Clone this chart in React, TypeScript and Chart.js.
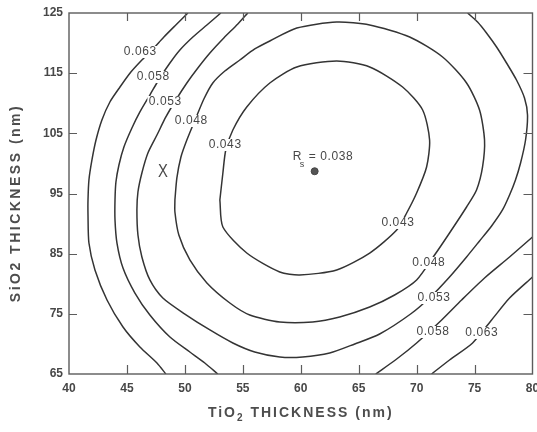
import React, { useEffect, useRef } from 'react';
import { Chart, registerables } from 'chart.js';

Chart.register(...registerables);

// Iso-reflectance contours R_s over the TiO2 / SiO2 layer thickness plane (nm)
const R043_X = [53.02, 53.28, 53.53, 54.14, 55.34, 57.33, 59.66, 63.1, 65.95, 68.79, 70.52, 71.12, 70.86, 70.0, 69.14, 68.28, 65.95, 63.1, 59.91, 58.19, 55.34, 53.28, 53.02];
const R043_Y = [93.92, 98.41, 102.23, 105.55, 109.38, 113.37, 116.03, 117.02, 116.03, 112.7, 108.88, 103.89, 99.41, 95.08, 91.76, 88.94, 85.11, 82.29, 81.46, 81.95, 85.11, 89.43, 93.92];

const R048_X = [49.14, 49.31, 49.66, 50.17, 50.95, 51.64, 52.41, 53.45, 54.74, 56.03, 57.33, 59.66, 63.1, 65.95, 69.4, 72.24, 74.31, 75.43, 75.86, 75.69, 75.17, 74.31, 72.84, 71.55, 70.0, 68.1, 65.95, 63.36, 61.03, 58.19, 55.6, 53.88, 51.9, 50.43, 49.48, 49.14, 49.14];
const R048_Y = [93.92, 97.58, 101.07, 103.89, 107.55, 110.71, 113.37, 115.36, 117.19, 119.02, 120.35, 122.51, 123.5, 123.01, 121.01, 117.69, 113.37, 108.88, 103.89, 99.41, 95.58, 92.76, 88.44, 84.78, 80.63, 78.13, 76.14, 74.48, 73.65, 73.65, 74.81, 76.8, 80.13, 83.95, 88.1, 91.93, 93.92];

const R053_X = [55.43, 54.57, 53.36, 52.16, 51.12, 50.17, 49.22, 48.36, 47.59, 46.81, 46.29, 45.95, 45.86, 45.95, 46.29, 46.98, 48.1, 50.0, 52.16, 54.14, 56.03, 58.19, 60.17, 62.5, 64.66, 66.81, 69.48, 71.29, 72.84, 74.31, 75.43, 76.47, 77.41, 78.02, 78.53, 78.97, 79.4, 79.57, 79.31, 78.62, 77.76, 76.9, 76.03, 75.26, 74.4];
const R053_Y = [125, 123.17, 120.85, 118.35, 115.86, 113.37, 110.54, 107.72, 104.72, 101.73, 98.41, 95.25, 92.26, 88.1, 84.45, 80.63, 77.63, 74.97, 72.32, 70.16, 68.66, 67.83, 67.83, 68.49, 69.99, 71.65, 74.97, 77.97, 81.12, 84.45, 87.11, 89.6, 92.26, 94.75, 97.25, 100.07, 103.89, 108.05, 110.87, 113.86, 116.69, 119.35, 121.68, 123.5, 125];

const R058A_X = [53.1, 51.9, 50.69, 49.57, 48.71, 47.84, 46.98, 46.12, 45.43, 44.74, 44.31, 44.05, 43.97, 43.97, 44.14, 44.66, 45.69, 46.98, 48.71, 50.43, 51.72, 52.84];
const R058A_Y = [125, 123.01, 121.01, 118.85, 116.69, 114.2, 111.37, 108.55, 105.89, 102.73, 99.74, 96.91, 93.92, 90.6, 86.77, 82.62, 78.46, 74.81, 71.15, 68.66, 66.83, 65];
const R058B_X = [66.47, 68.28, 70.0, 72.16, 73.88, 75.86, 78.02, 80.0];
const R058B_Y = [65, 67.49, 70.16, 73.98, 77.3, 80.96, 84.45, 87.77];

const R063A_X = [50.26, 49.22, 48.19, 47.24, 46.29, 45.34, 44.4, 43.53, 42.84, 42.33, 41.98, 41.72, 41.64, 41.64, 41.72, 42.24, 43.28, 44.66, 46.12, 47.59, 48.36];
const R063A_Y = [125, 123.01, 121.01, 119.02, 117.19, 115.19, 112.7, 110.21, 107.22, 103.89, 100.57, 97.25, 93.92, 91.43, 86.77, 82.29, 77.3, 72.81, 69.49, 66.83, 65];
const R063B_X = [71.29, 72.84, 74.83, 76.47, 78.02, 80.0];
const R063B_Y = [65, 67.33, 70.16, 73.98, 77.63, 81.12];

// Level labels placed along the contours
const LABEL_TEXT = ['0.063', '0.058', '0.053', '0.048', '0.043', '0.043', '0.048', '0.053', '0.058', '0.063'];
const LABEL_X = [46.12, 47.24, 48.28, 50.52, 53.45, 68.36, 71.03, 71.47, 71.38, 75.6];
const LABEL_Y = [118.52, 114.36, 110.21, 107.05, 103.06, 90.1, 83.45, 77.63, 71.98, 71.82];

// Minimum of R_s and the marked design point
const MIN_X = [61.2];
const MIN_Y = [98.7];
const MIN_VALUE = '0.038';
const MARK_X = 48.1;
const MARK_Y = 98.7;

const X_TICKS = [40, 45, 50, 55, 60, 65, 70, 75, 80];
const Y_TICKS = [65, 75, 85, 95, 105, 115, 125];

const FONT = '"Liberation Sans", Arial, Helvetica, sans-serif';
const LINE = '#343434';
const TEXT = '#474747';
const FRAME = '#5c5c5c';

const toPoints = (xs: number[], ys: number[]) => xs.map((x, i) => ({ x, y: ys[i] }));

const contour = (xs: number[], ys: number[]) => ({
  data: toPoints(xs, ys),
  showLine: true,
  pointRadius: 0,
  pointHoverRadius: 0,
  borderColor: LINE,
  borderWidth: 1.5,
  tension: 0.25,
  fill: false,
});

const overlay = {
  id: 'overlay',
  afterDatasetsDraw(chart: any) {
    const { ctx, chartArea: a, scales } = chart;
    const sx = scales.x;
    const sy = scales.y;
    ctx.save();

    // contour level labels sit on white patches that break the lines
    ctx.font = `12px ${FONT}`;
    (ctx as any).letterSpacing = '0.6px';
    ctx.textAlign = 'center';
    ctx.textBaseline = 'middle';
    LABEL_TEXT.forEach((t, i) => {
      const px = sx.getPixelForValue(LABEL_X[i]);
      const py = sy.getPixelForValue(LABEL_Y[i]);
      const w = ctx.measureText(t).width;
      ctx.fillStyle = '#ffffff';
      ctx.fillRect(px - w / 2 - 1, py - 6, w + 2, 12);
      ctx.fillStyle = TEXT;
      ctx.fillText(t, px + 0.3, py);
    });

    // R_s = minimum label beside the dot
    const dx = sx.getPixelForValue(MIN_X[0]);
    const dy = sy.getPixelForValue(MIN_Y[0]);
    ctx.textAlign = 'left';
    ctx.textBaseline = 'alphabetic';
    ctx.font = `12px ${FONT}`;
    ctx.fillText('R', dx - 22, dy - 11);
    ctx.font = `9px ${FONT}`;
    ctx.fillText('s', dx - 15, dy - 4);
    ctx.font = `12px ${FONT}`;
    ctx.fillText('= ' + MIN_VALUE, dx - 6, dy - 11);

    // design point marker
    const mx = sx.getPixelForValue(MARK_X);
    const my = sy.getPixelForValue(MARK_Y);
    (ctx as any).letterSpacing = '0px';
    ctx.save();
    ctx.translate(mx, my);
    ctx.scale(0.78, 1);
    ctx.font = `19px ${FONT}`;
    ctx.textAlign = 'center';
    ctx.textBaseline = 'middle';
    ctx.fillStyle = '#4a4a4a';
    ctx.fillText('X', 0, 1);
    ctx.restore();

    // plot frame with inward tick marks on all four sides
    ctx.strokeStyle = FRAME;
    ctx.lineWidth = 1.4;
    ctx.strokeRect(a.left, a.top, a.right - a.left, a.bottom - a.top);
    ctx.lineWidth = 1.2;
    ctx.beginPath();
    X_TICKS.slice(1, -1).forEach((v) => {
      const px = Math.round(sx.getPixelForValue(v)) + 0.5;
      ctx.moveTo(px, a.bottom);
      ctx.lineTo(px, a.bottom - 9);
      ctx.moveTo(px, a.top);
      ctx.lineTo(px, a.top + 8);
    });
    Y_TICKS.slice(1, -1).forEach((v) => {
      const py = Math.round(sy.getPixelForValue(v)) + 0.5;
      ctx.moveTo(a.left, py);
      ctx.lineTo(a.left + 8, py);
      ctx.moveTo(a.right, py);
      ctx.lineTo(a.right - 9, py);
    });
    ctx.stroke();

    // axis titles
    ctx.fillStyle = '#4d4d4d';
    ctx.textBaseline = 'alphabetic';
    ctx.textAlign = 'left';
    (ctx as any).letterSpacing = '2px';
    const big = `bold 14px ${FONT}`;
    const small = `bold 10px ${FONT}`;
    ctx.font = big;
    const w1 = ctx.measureText('TiO').width;
    const w3 = ctx.measureText(' THICKNESS (nm)').width;
    ctx.font = small;
    const w2 = ctx.measureText('2').width;
    const cx = (a.left + a.right) / 2;
    const start = cx - (w1 + w2 + w3) / 2;
    ctx.font = big;
    ctx.fillText('TiO', start, 417);
    ctx.font = small;
    ctx.fillText('2', start + w1, 421);
    ctx.font = big;
    ctx.fillText(' THICKNESS (nm)', start + w1 + w2, 417);

    ctx.save();
    ctx.translate(16, 203);
    ctx.rotate(-Math.PI / 2);
    (ctx as any).letterSpacing = '2.5px';
    ctx.font = big;
    ctx.textAlign = 'center';
    ctx.textBaseline = 'middle';
    ctx.fillText('SiO2 THICKNESS (nm)', 0, 0);
    ctx.restore();

    ctx.restore();
  },
};

export default function App() {
  const ref = useRef<HTMLCanvasElement | null>(null);

  useEffect(() => {
    if (!ref.current) return;
    const tickFont = { family: FONT, size: 12, weight: 'bold' as const };
    const chart = new Chart(ref.current, {
      type: 'scatter',
      data: {
        datasets: [
          contour(R043_X, R043_Y),
          contour(R048_X, R048_Y),
          contour(R053_X, R053_Y),
          contour(R058A_X, R058A_Y),
          contour(R058B_X, R058B_Y),
          contour(R063A_X, R063A_Y),
          contour(R063B_X, R063B_Y),
          {
            data: toPoints(MIN_X, MIN_Y),
            pointRadius: 3.5,
            pointHoverRadius: 3.5,
            pointBackgroundColor: '#555555',
            pointBorderColor: '#444444',
            pointBorderWidth: 1,
            showLine: false,
          },
        ] as any,
      },
      options: {
        animation: false,
        responsive: false,
        devicePixelRatio: 1,
        events: [],
        layout: { padding: { top: 13, right: 4, left: 0, bottom: 0 } },
        plugins: {
          legend: { display: false },
          tooltip: { enabled: false },
          title: { display: false },
        },
        scales: {
          x: {
            type: 'linear',
            min: 40,
            max: 80,
            grid: { display: false, drawTicks: false, tickLength: 0 },
            border: { display: false },
            ticks: { font: tickFont, color: TEXT, padding: 7, maxRotation: 0, autoSkip: false },
            afterBuildTicks: (s: any) => {
              s.ticks = X_TICKS.map((value) => ({ value }));
            },
            afterFit: (s: any) => {
              s.height = 58;
              s.paddingLeft = 0;
              s.paddingRight = 0;
            },
          },
          y: {
            type: 'linear',
            min: 65,
            max: 125,
            grid: { display: false, drawTicks: false, tickLength: 0 },
            border: { display: false },
            ticks: { font: tickFont, color: TEXT, padding: 6, autoSkip: false },
            afterBuildTicks: (s: any) => {
              s.ticks = Y_TICKS.map((value) => ({ value }));
            },
            afterFit: (s: any) => {
              s.width = 69;
              s.paddingTop = 0;
              s.paddingBottom = 0;
            },
          },
        },
      } as any,
      plugins: [overlay],
    });
    return () => chart.destroy();
  }, []);

  return (
    <div style={{ position: 'absolute', left: 0, top: 0, width: 537, height: 432, background: '#ffffff' }}>
      <canvas ref={ref} width={537} height={432} style={{ display: 'block' }} />
    </div>
  );
}
